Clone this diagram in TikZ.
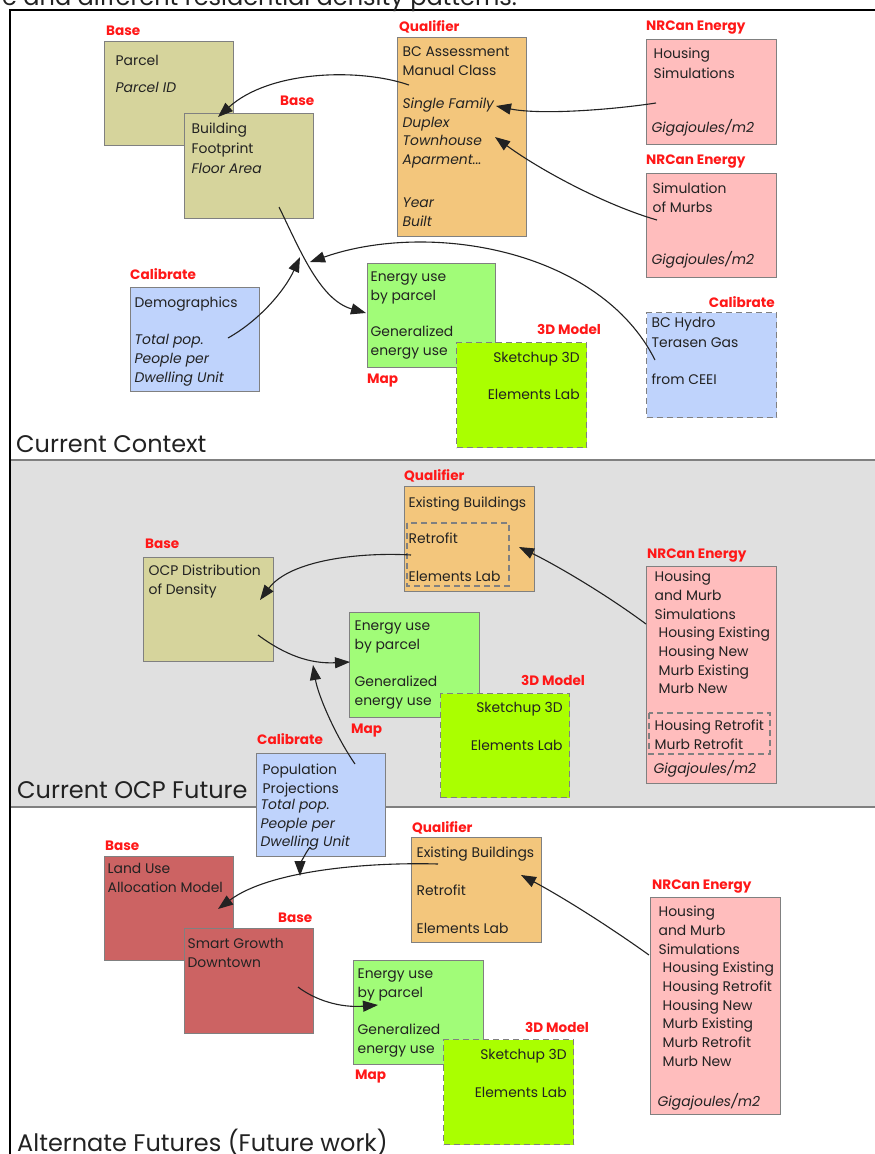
\documentclass[tikz,border=0pt]{standalone}
\usepackage{fontspec}
\setmainfont{Poppins}
\usetikzlibrary{arrows.meta}
\definecolor{cOlive}{RGB}{214,212,156}
\definecolor{cOrange}{RGB}{243,198,124}
\definecolor{cPink}{RGB}{255,189,189}
\definecolor{cBlue}{RGB}{191,211,252}
\definecolor{cLGreen}{RGB}{161,252,120}
\definecolor{cBGreen}{RGB}{170,255,0}
\definecolor{cDRed}{RGB}{204,99,99}
\definecolor{cSect}{RGB}{224,224,224}
\definecolor{cEdge}{RGB}{128,128,128}
\definecolor{cLabel}{RGB}{255,24,24}
\definecolor{cInk}{RGB}{34,34,34}
% #1 width, #2 height, #3 left pad, #4 top pad, #5 text
\newcommand{\bxt}[5]{\parbox[t][#2][t]{#1}{\fontsize{13.9}{18.7}\selectfont\raggedright\setlength{\leftskip}{#3}\vspace*{#4}\strut #5}}
\newcommand{\bxr}[5]{\parbox[t][#2][t]{#1}{\fontsize{13.9}{18.7}\selectfont\raggedleft\setlength{\rightskip}{#3}\vspace*{#4}\strut #5}}
\begin{document}
\begin{tikzpicture}[x=1pt,y=-1pt,
  box/.style={draw=cEdge, line width=1.3pt, inner sep=0pt, anchor=north west, text=cInk},
  dbox/.style={box, dash pattern=on 6pt off 4pt},
  innerdash/.style={draw=cEdge, line width=1.1pt, dash pattern=on 6pt off 4pt},
  lab/.style={text=cLabel, font=\fontsize{13.6}{15}\selectfont\bfseries, anchor=west, inner sep=0pt},
  sect/.style={font=\fontsize{24}{28}\selectfont, text=cInk, anchor=base west, inner sep=0pt},
  arr/.style={line width=1.1pt, draw=cInk, -{Triangle[length=15pt,width=11pt]}},
]
\useasboundingbox (0,0) rectangle (875,1154);
\fill[white] (0,0) rectangle (875,1154);
% sections
\fill[cSect] (10,460) rectangle (875,807);
\draw[cEdge, line width=1.5pt] (10,460) -- (875,460);
\draw[cEdge, line width=1.5pt] (10,807) -- (875,807);
\draw[black, line width=1.5pt] (875,10) -- (10,10) -- (10,1154);
% title (cut off at the top, as in the reference)
\begin{scope}
\clip (0,0) rectangle (875,1154);
\node[sect] (title) at (2,5) {e and different residential density patterns.};
\node[sect] (s3) at (17,1151) {Alternate Futures (Future work)};
\end{scope}
\node[sect] (s1) at (16,452) {Current Context};
\node[sect] (s2) at (17,798) {Current OCP Future};

% ---------- Section 1 ----------
\node[box, fill=cOlive] (parcel) at (104,41) {\bxt{129pt}{104pt}{11pt}{10.9pt}{Parcel\\[8.3pt]\textit{Parcel ID}}};
\node[box, fill=cOlive] (bldg) at (184,113) {\bxt{129pt}{105pt}{7pt}{6.9pt}{Building\\[1.3pt]Footprint\\[1.3pt]\textit{Floor Area}}};
\node[box, fill=cOrange] (qual1) at (397,37) {\bxt{129pt}{199pt}{5pt}{5.9pt}{BC Assessment\\Manual Class\\[14.3pt]\textit{Single Family}\\\textit{Duplex}\\\textit{Townhouse}\\\textit{Aparment...}\\[24.3pt]\textit{Year}\\\textit{Built}}};
\node[box, fill=cPink] (nrc1) at (646,39) {\bxt{130pt}{105pt}{7pt}{5.9pt}{Housing\\[1.3pt]Simulations\\[35.3pt]\hspace*{-2pt}\textit{Gigajoules/m2}}};
\node[box, fill=cPink] (nrc2) at (646,173) {\bxt{130pt}{104pt}{6pt}{6.9pt}{Simulation\\of Murbs\\[33.3pt]\hspace*{-1pt}\textit{Gigajoules/m2}}};
\node[box, fill=cBlue] (demo) at (130,287) {\bxt{129pt}{104pt}{4pt}{6.9pt}{Demographics\\[18.3pt]\textit{Total pop.}\\\textit{People per}\\\textit{Dwelling Unit}}};
\node[box, fill=cLGreen] (en1) at (367,263) {\bxt{128pt}{104pt}{3pt}{4.9pt}{Energy use\\by parcel\\[17.3pt]Generalized\\energy use}};
\node[dbox, fill=cBGreen] (mod1) at (456,342) {\bxr{130pt}{105pt}{7pt}{6.9pt}{Sketchup 3D\\[18.3pt]Elements Lab}};
\node[dbox, fill=cBlue] (hydro) at (646,312) {\bxt{130pt}{105pt}{5pt}{1.9pt}{BC Hydro\\[1.3pt]Terasen Gas\\[18.3pt]from CEEI}};

\node[lab] (l1) at (106,31) {Base};
\node[lab] (l2) at (280,101) {Base};
\node[lab] (l3) at (399,27) {Qualifier};
\node[lab] (l4) at (646,28) {NRCan Energy};
\node[lab] (l5) at (646,162) {NRCan Energy};
\node[lab] (l6) at (130,274) {Calibrate};
\node[lab] (l7) at (367,381) {Map};
\node[lab] (l8) at (537,329) {3D Model};
\node[lab, anchor=east] (l9) at (775,302) {Calibrate};

\coordinate (hub1) at (300,257);
\coordinate (hub1b) at (310,262);
\draw[arr] ([shift={(12,48)}]qual1.north west) .. controls +(-49,-17) and +(52,-47) .. ([shift={(34,4)}]bldg.north west);
\draw[arr] ([shift={(10,64)}]nrc1.north west) .. controls +(-46,7) and +(44,9) .. ([shift={(99,69)}]qual1.north west);
\draw[arr] ([shift={(11,47)}]nrc2.north west) .. controls +(-52,-15) and +(45,33) .. ([shift={(98,100)}]qual1.north west);
\draw[arr] ([shift={(95,94)}]bldg.north west) .. controls +(21,43) and +(-46,-13) .. ([shift={(-1,50)}]en1.north west);
\draw[arr] ([shift={(98,51)}]demo.north west) .. controls +(32,-18) and +(-15,33) .. (hub1);
\draw[arr] ([shift={(9,48)}]hydro.north west) .. controls +(-55,-110) and +(120,-42) .. (hub1b);

% ---------- Section 2 ----------
\node[box, fill=cOlive] (ocp) at (143,557) {\bxt{130pt}{104pt}{5pt}{4.9pt}{OCP Distribution\\of Density}};
\node[box, fill=cOrange] (qual2) at (404,486) {\bxt{130pt}{105pt}{4pt}{7.9pt}{Existing Buildings\\[17.3pt]Retrofit\\[19.3pt]Elements Lab}};
\draw[innerdash] ([shift={(3,37)}]qual2.north west) rectangle ([shift={(105,100)}]qual2.north west);
\node[box, fill=cLGreen] (en2) at (349,612) {\bxt{130pt}{105pt}{5pt}{4.9pt}{Energy use\\by parcel\\[18.3pt]Generalized\\energy use}};
\node[dbox, fill=cBGreen] (mod2) at (440,693) {\bxr{129pt}{104pt}{7pt}{5.9pt}{Sketchup 3D\\[19.3pt]Elements Lab}};
\node[box, fill=cPink] (nrc4) at (646,566) {\bxt{130pt}{217pt}{8pt}{1.9pt}{Housing\\and Murb\\Simulations\\\hspace*{4pt}Housing Existing\\\hspace*{4pt}Housing New\\\hspace*{4pt}Murb Existing\\\hspace*{4pt}Murb New\\[18.3pt]Housing Retrofit\\Murb Retrofit\\[5.3pt]\hspace*{-1pt}\textit{Gigajoules/m2}}};
\draw[innerdash] ([shift={(3,147)}]nrc4.north west) rectangle ([shift={(124,188)}]nrc4.north west);
\node[box, fill=cBlue] (pop) at (256,753) {\bxt{129pt}{103pt}{6pt}{7.9pt}{Population\\Projections\\[-2.7pt]\hspace*{-2pt}\textit{Total pop.}\\\hspace*{-2pt}\textit{People per}\\\hspace*{-2pt}\textit{Dwelling Unit}}};

\node[lab] (m1) at (404,476) {Qualifier};
\node[lab] (m2) at (145,544) {Base};
\node[lab] (m3) at (647,556) {NRCan Energy};
\node[lab] (m4) at (521,680) {3D Model};
\node[lab] (m5) at (351,731) {Map};
\node[lab] (m6) at (257,739) {Calibrate};

\coordinate (hub2) at (313,665);
\draw[arr] ([shift={(7,69)}]qual2.north west) .. controls +(-51,-3) and +(30,-40) .. ([shift={(117,43)}]ocp.north west);
\draw[arr] ([shift={(0,58)}]nrc4.north west) .. controls +(-46,-34) and +(31,15) .. ([shift={(115,61)}]qual2.north west);
\draw[arr] ([shift={(115,78)}]ocp.north west) .. controls +(27,20) and +(-40,2) .. ([shift={(1,50)}]en2.north west);
\draw[arr] ([shift={(99,11)}]pop.north west) .. controls +(-20,-29) and +(5,30) .. (hub2);

% ---------- Section 3 ----------
\node[box, fill=cDRed] (land) at (104,856) {\bxt{129pt}{104pt}{3pt}{3.9pt}{Land Use\\Allocation Model}};
\node[box, fill=cDRed] (smart) at (184,928) {\bxt{129pt}{105pt}{3pt}{6.9pt}{Smart Growth\\Downtown}};
\node[box, fill=cOrange] (qual3) at (411,837) {\bxt{130pt}{105pt}{5pt}{6.9pt}{Existing Buildings\\[19.3pt]Retrofit\\[19.3pt]Elements Lab}};
\node[box, fill=cLGreen] (en3) at (353,960) {\bxt{130pt}{104pt}{4pt}{4.9pt}{Energy use\\by parcel\\[18.3pt]Generalized\\energy use}};
\node[dbox, fill=cBGreen] (mod3) at (443,1039) {\bxr{130pt}{105pt}{7pt}{6.9pt}{Sketchup 3D\\[19.3pt]Elements Lab}};
\node[box, fill=cPink] (nrc5) at (650,897) {\bxt{130pt}{217pt}{8pt}{5.9pt}{Housing\\and Murb\\Simulations\\\hspace*{4pt}Housing Existing\\\hspace*{4pt}Housing Retrofit\\\hspace*{4pt}Housing New\\\hspace*{4pt}Murb Existing\\\hspace*{4pt}Murb Retrofit\\\hspace*{4pt}Murb New\\[21.3pt]\hspace*{-1pt}\textit{Gigajoules/m2}}};

\node[lab] (n1) at (105,846) {Base};
\node[lab] (n2) at (278,918) {Base};
\node[lab] (n3) at (412,828) {Qualifier};
\node[lab] (n4) at (652,887) {NRCan Energy};
\node[lab] (n5) at (525,1027) {3D Model};
\node[lab] (n6) at (355,1077) {Map};

\coordinate (hub3) at (300,876);
\draw[arr] ([shift={(27,27)}]qual3.north west) .. controls +(-68,-2) and +(52,-39) .. ([shift={(114,53)}]land.north west);
\draw[arr] ([shift={(54,94)}]pop.north west) .. controls +(-6,8) and +(0,-10) .. (hub3);
\draw[arr] ([shift={(114,59)}]smart.north west) .. controls +(17,13) and +(-38,3) .. ([shift={(25,45)}]en3.north west);
\draw[arr] ([shift={(-1,58)}]nrc5.north west) .. controls +(-49,-35) and +(34,18) .. ([shift={(110,38)}]qual3.north west);
\end{tikzpicture}
\end{document}
